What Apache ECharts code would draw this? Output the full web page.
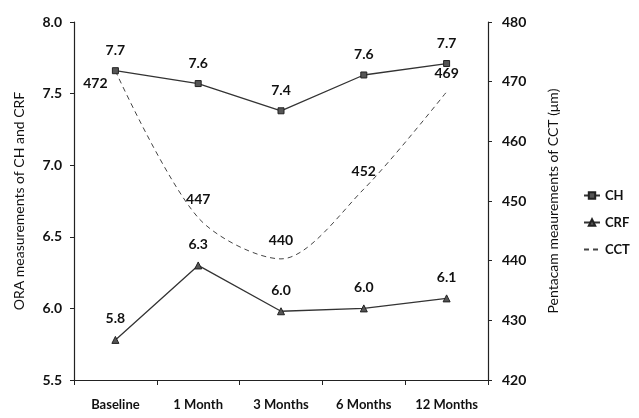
<!DOCTYPE html>
<html><head><meta charset="utf-8">
<script src="https://cdn.jsdelivr.net/npm/echarts@6/dist/echarts.min.js"></script>
<style>html,body{margin:0;padding:0;background:#fff}#c{width:639px;height:418px}</style>
</head><body><div id="c"></div>
<script>
const categories = ['Baseline', '1 Month', '3 Months', '6 Months', '12 Months'];
const chValues = [7.66, 7.57, 7.38, 7.63, 7.71];
const chLabels = ['7.7', '7.6', '7.4', '7.6', '7.7'];
const crfValues = [5.78, 6.30, 5.98, 6.00, 6.07];
const crfLabels = ['5.8', '6.3', '6.0', '6.0', '6.1'];
const cctValues = [471.8, 447.2, 440.3, 452, 468.3];
const cctLabels = ['472', '447', '440', '452', '469'];
const leftTicks = [5.5, 8.0, 0.5];
const rightTicks = [420, 480, 10];

const FONT = 'Lato';
const txt = {fontFamily: FONT, fontSize: 14, color: '#111'};
const chart = echarts.init(document.getElementById('c'));
chart.setOption({
  animation: false,
  backgroundColor: '#fff',
  textStyle: {fontFamily: FONT},
  grid: {left: 74, right: 151, top: 22, bottom: 38},
  legend: {
    orient: 'vertical', left: 578, top: 184, itemGap: 14, itemWidth: 16, itemHeight: 8,
    textStyle: Object.assign({}, txt, {fontSize: 13, fontWeight: 'bold'}),
    data: ['CH', 'CRF', 'CCT']
  },
  xAxis: {
    type: 'category', data: categories, boundaryGap: true,
    axisLine: {lineStyle: {color: '#222', width: 1.2}},
    axisTick: {show: true, inside: false, length: 5, lineStyle: {color: '#222'}},
    axisLabel: Object.assign({}, txt, {margin: 18, fontSize: 13, fontWeight: 'bold', interval: 0})
  },
  yAxis: [{
    type: 'value', min: leftTicks[0], max: leftTicks[1], interval: leftTicks[2],
    name: 'ORA measurements of CH and CRF', nameLocation: 'middle', nameGap: 48,
    nameTextStyle: Object.assign({}, txt, {fontSize: 14}),
    axisLine: {show: true, lineStyle: {color: '#222', width: 1.2}},
    axisTick: {show: true, length: 4, lineStyle: {color: '#222'}},
    splitLine: {show: false},
    axisLabel: Object.assign({}, txt, {fontWeight: 'bold', formatter: v => v.toFixed(1), margin: 12})
  }, {
    type: 'value', min: rightTicks[0], max: rightTicks[1], interval: rightTicks[2], position: 'right',
    name: 'Pentacam meaurements of CCT (μm)', nameLocation: 'middle', nameGap: 58, nameRotate: 90,
    nameTextStyle: Object.assign({}, txt, {fontSize: 14}),
    axisLine: {show: true, lineStyle: {color: '#222', width: 1.2}},
    axisTick: {show: true, length: 4, lineStyle: {color: '#222'}},
    splitLine: {show: false},
    axisLabel: Object.assign({}, txt, {fontWeight: 'bold', margin: 14})
  }],
  series: [{
    name: 'CH', type: 'line', yAxisIndex: 0, data: chValues,
    symbol: 'rect', symbolSize: 6,
    lineStyle: {color: '#333', width: 1.3}, itemStyle: {color: '#555', borderColor: '#222', borderWidth: 1},
    label: Object.assign({show: true, position: 'top', distance: 10, formatter: p => chLabels[p.dataIndex]}, txt, {fontWeight: 'bold'})
  }, {
    name: 'CRF', type: 'line', yAxisIndex: 0, data: crfValues,
    symbol: 'triangle', symbolSize: 7,
    lineStyle: {color: '#333', width: 1.3}, itemStyle: {color: '#555', borderColor: '#222', borderWidth: 1},
    label: Object.assign({show: true, position: 'top', distance: 10, formatter: p => crfLabels[p.dataIndex]}, txt, {fontWeight: 'bold'})
  }, {
    name: 'CCT', type: 'line', yAxisIndex: 1, data: cctValues, smooth: 0.3,
    symbol: 'circle', symbolSize: 2, showSymbol: true,
    lineStyle: {color: '#444', width: 1, type: [5, 4]},
    itemStyle: {color: 'rgba(0,0,0,0)', borderWidth: 0},
    label: Object.assign({show: true, position: 'top', distance: 10, formatter: p => cctLabels[p.dataIndex]}, txt, {fontWeight: 'bold'}),
    labelLayout: function (p) {
      if (p.dataIndex === 0) return {dx: -20, dy: 31};
      return {};
    }
  }]
});
</script></body></html>
